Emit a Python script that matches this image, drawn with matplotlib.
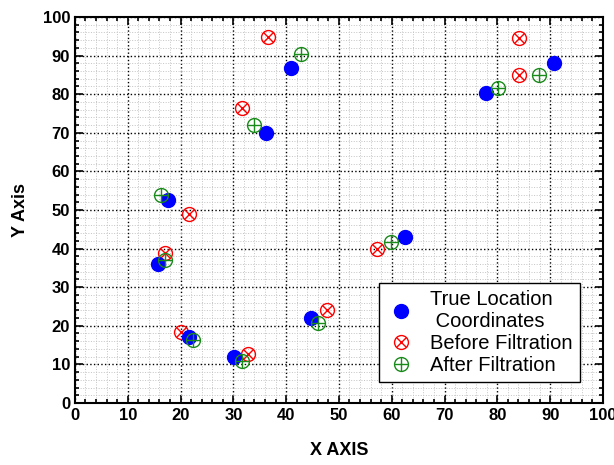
import numpy as np
import matplotlib
matplotlib.use("Agg")
import matplotlib.pyplot as plt
from matplotlib.ticker import MultipleLocator

plt.rcParams['font.family'] = ['Liberation Sans', 'DejaVu Sans']

# true node locations
true_x = [15.7, 17.6, 21.6, 30.1, 36.2, 40.9, 44.7, 62.5, 77.8, 90.7]
true_y = [36.0, 52.5, 17.0, 11.8, 70.0, 86.8, 22.0, 43.0, 80.4, 88.0]

# estimates before filtration
before_x = [17.0, 21.6, 20.1, 32.8, 31.6, 36.6, 47.7, 57.2, 84.1, 84.1]
before_y = [38.8, 49.0, 18.5, 12.7, 76.5, 94.8, 24.0, 40.0, 85.0, 94.6]

# estimates after filtration
after_x = [16.3, 17.0, 22.3, 31.6, 33.9, 42.8, 46.0, 59.8, 80.1, 87.9]
after_y = [54.0, 37.0, 16.3, 11.0, 72.0, 90.4, 20.7, 41.8, 81.5, 85.0]

fig = plt.figure(figsize=(6.14, 4.65), dpi=100)
ax = fig.add_axes([0.122, 0.1334, 0.86, 0.83])

h_true, = ax.plot(true_x, true_y, 'o', color='blue', markersize=10, linestyle='none', zorder=4)
b1, = ax.plot(before_x, before_y, 'o', mfc='none', mec='red', markersize=10, mew=1.0, linestyle='none', zorder=3)
b2, = ax.plot(before_x, before_y, 'x', color='red', markersize=7.5, mew=1.0, linestyle='none', zorder=3)
a1, = ax.plot(after_x, after_y, 'o', mfc='none', mec='#1a8a1a', markersize=10, mew=1.0, linestyle='none', zorder=5)
a2, = ax.plot(after_x, after_y, '+', color='#1a8a1a', markersize=10, mew=1.0, linestyle='none', zorder=5)

ax.set_xlim(0, 100)
ax.set_ylim(0, 100)
ax.xaxis.set_major_locator(MultipleLocator(10))
ax.yaxis.set_major_locator(MultipleLocator(10))
ax.xaxis.set_minor_locator(MultipleLocator(2))
ax.yaxis.set_minor_locator(MultipleLocator(2))
ax.tick_params(which='both', direction='in', top=True, right=True, width=1.2)
ax.tick_params(which='major', length=6, labelsize=12)
ax.tick_params(which='minor', length=3)
for lab in ax.get_xticklabels() + ax.get_yticklabels():
    lab.set_fontweight('bold')
for s in ax.spines.values():
    s.set_linewidth(1.5)

ax.grid(True, which='major', color='black', linestyle=':', linewidth=1.0)
ax.grid(True, which='minor', color='#c4c4c4', linestyle=':', linewidth=0.7)
ax.set_axisbelow(True)

ax.set_xlabel('X AXIS', fontsize=13, fontweight='bold', labelpad=14)
ax.set_ylabel('Y Axis', fontsize=13, fontweight='bold', labelpad=10)

leg = ax.legend([h_true, (b1, b2), (a1, a2)],
                ['True Location\n Coordinates', 'Before Filtration', 'After Filtration'],
                loc='lower right', bbox_to_anchor=(0.975, 0.028), fontsize=14.5,
                fancybox=False, edgecolor='black', framealpha=1,
                handletextpad=0.7, borderpad=0.35, labelspacing=0.15, handlelength=1.5)
leg.get_frame().set_linewidth(1.0)

fig.savefig('out.png', dpi=100)
